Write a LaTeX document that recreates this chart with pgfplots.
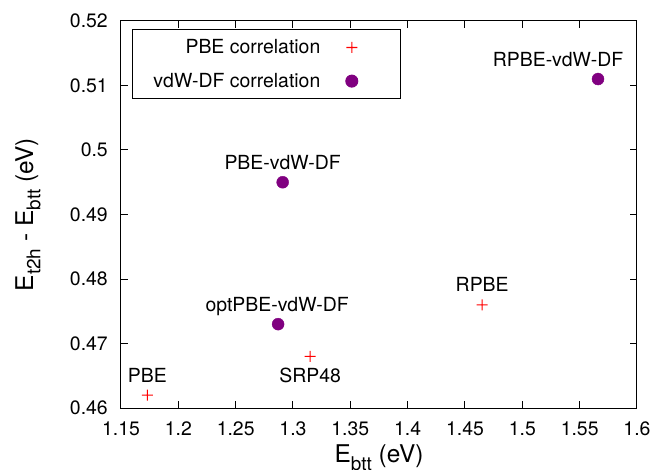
\documentclass[border=0pt]{standalone}
\usepackage{pgfplots}
\pgfplotsset{compat=1.18}
\usepackage{fontspec}
\setmainfont{TeX Gyre Heros}
\definecolor{gpurple}{RGB}{128,0,128}
\newcommand{\subx}[1]{\raisebox{-0.3em}{\fontsize{19}{20}\selectfont #1}}
\pgfdeclareplotmark{redplus}{%
  \pgfpathrectanglecorners{\pgfqpoint{-\pgfplotmarksize}{-0.55bp}}{\pgfqpoint{\pgfplotmarksize}{0.55bp}}%
  \pgfpathrectanglecorners{\pgfqpoint{-0.55bp}{-\pgfplotmarksize}}{\pgfqpoint{0.55bp}{\pgfplotmarksize}}%
  \pgfusepathqfill}
\begin{document}
\begin{tikzpicture}
\begin{axis}[
  at={(0,0)}, anchor=south west,
  scale only axis, width=516bp, height=387bp,
  xmin=1.15, xmax=1.6, ymin=0.46, ymax=0.52,
  xtick={1.15,1.2,1.25,1.3,1.35,1.4,1.45,1.5,1.55,1.6},
  ytick={0.46,0.47,0.48,0.49,0.5,0.51,0.52},
  xticklabels={1.15,1.2,1.25,1.3,1.35,1.4,1.45,1.5,1.55,1.6},
  yticklabels={0.46,0.47,0.48,0.49,0.5,0.51,0.52},
  tick align=inside, major tick length=7bp,
  axis line style={line width=1bp}, major tick style={line width=1bp, black},
  tick label style={font=\fontsize{19.5}{23}\selectfont},
  xticklabel style={anchor=base, inner sep=0pt, yshift=-27bp},
  yticklabel style={anchor=east, inner sep=0pt, xshift=-13bp},
  xlabel={E\subx{btt} (eV)},
  ylabel={E\subx{t2h} - E\subx{btt} (eV)},
  every axis x label/.style={at={(axis description cs:0.5,-0.1421)}, anchor=base, font=\fontsize{24.5}{28}\selectfont},
  every axis y label/.style={at={(axis description cs:-0.1705,0.5)}, anchor=base, rotate=90, font=\fontsize{24.5}{28}\selectfont},
  legend plot pos=right,
  legend cell align=right,
  legend image code/.code={\path (-29bp,0bp) (29bp,0bp); \draw[#1] plot coordinates {(0bp,0bp)};},
  legend style={at={(axis description cs:0.0213,0.979)}, anchor=north west,
    line width=1bp, font=\fontsize{19.5}{23}\selectfont,
    inner xsep=19bp, inner ysep=8bp, row sep=14bp,
    nodes={inner sep=2bp}},
]
\addplot[only marks, mark=redplus, color=red, mark options={draw=none, fill=red}, mark size=5.5bp] coordinates {
  (1.173,0.462) (1.315,0.468) (1.465,0.476)
};
\addlegendentry{PBE correlation}
\addplot[only marks, mark=*, color=gpurple, mark options={draw=gpurple, fill=gpurple}, mark size=6bp] coordinates {
  (1.287,0.473) (1.291,0.495) (1.566,0.511)
};
\addlegendentry{vdW-DF correlation}
\begin{scope}[every node/.style={font=\fontsize{19.5}{23}\selectfont, anchor=base, inner sep=0pt}]
\node at (axis cs:1.173,0.462) [yshift=12.7bp] {PBE};
\node at (axis cs:1.315,0.468) [yshift=-26bp] {SRP48};
\node at (axis cs:1.465,0.476) [yshift=13bp] {RPBE};
\node at (axis cs:1.287,0.473) [yshift=13bp, xshift=-1bp] {optPBE-vdW-DF};
\node at (axis cs:1.291,0.495) [yshift=12.7bp] {PBE-vdW-DF};
\node at (axis cs:1.566,0.511) [yshift=12.7bp, xshift=-40bp] {RPBE-vdW-DF};
\end{scope}
\end{axis}
\pgfresetboundingbox
\useasboundingbox (-121bp,-62bp) rectangle (536bp,408bp);
\end{tikzpicture}
\end{document}
